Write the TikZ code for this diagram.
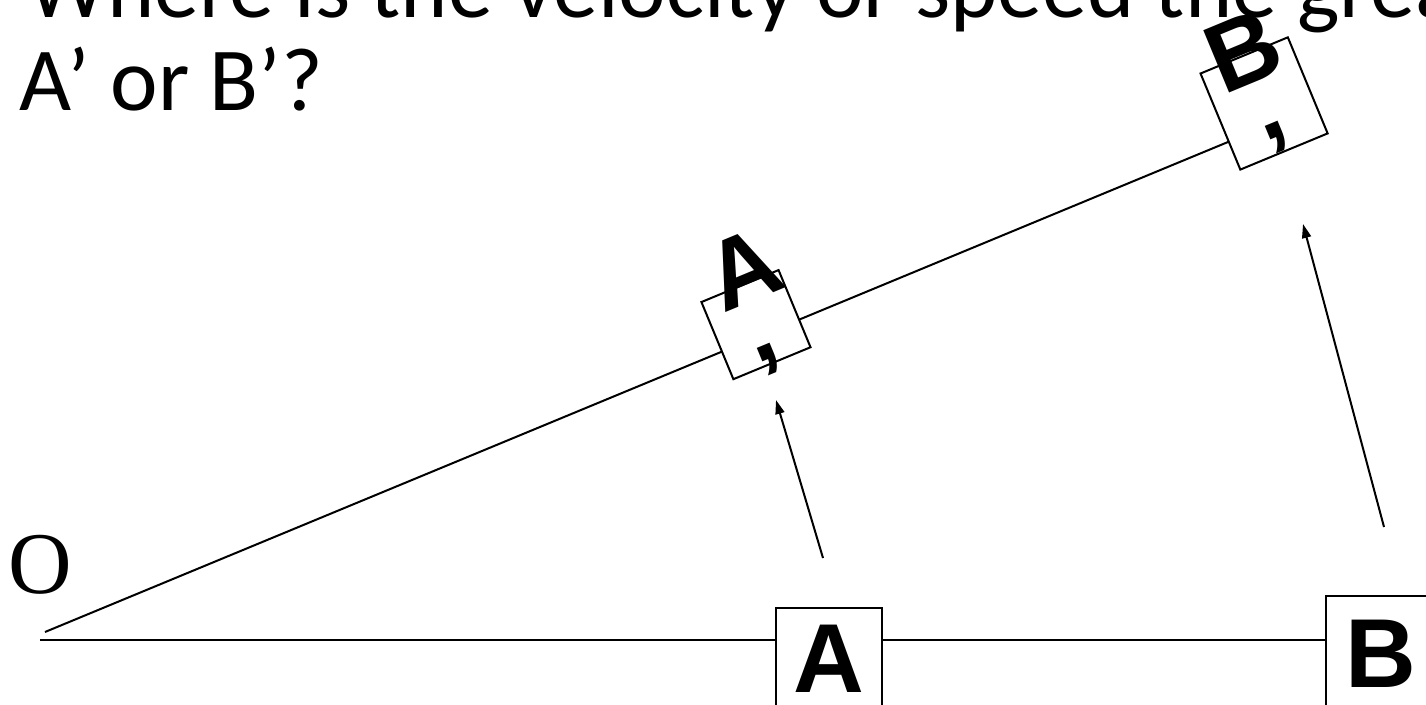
\documentclass[tikz,border=0pt]{standalone}
\usepackage{fontspec}
\setmainfont{Carlito}
\newfontfamily\arialfont{Liberation Sans}
\newfontfamily\timesfont{Liberation Serif}
\usetikzlibrary{arrows.meta}
\begin{document}
\begin{tikzpicture}[x=1pt,y=1pt,
  thinline/.style={line width=2pt},
  boxst/.style={draw, line width=2pt, fill=white, inner sep=0pt},
  bigletter/.style={font={\arialfont\bfseries\fontsize{98}{98}\selectfont}, inner sep=0pt},
  titlest/.style={font={\fontsize{90}{90}\selectfont}, inner sep=0pt, anchor=base west},
  arrowst/.style={line width=2pt, -{Triangle[length=14pt,width=9pt]}}]
\useasboundingbox (0,0) rectangle (1426,-704);
% title
\node[titlest] (t1) at (27,-17) {Where is the velocity or speed the greater};
\node[titlest] (t2) at (19,-110) {A’ or B’?};
% origin label
\node[inner sep=0pt, font={\timesfont\fontsize{88}{88}\selectfont}] (O) at (40,-565) {O};
% horizontal line and boxes
\coordinate (h0) at (40,-640);
\node[boxst, minimum width=106pt, minimum height=130pt, anchor=north] (boxA) at (829,-607) {};
\node[boxst, minimum width=106pt, minimum height=130pt, anchor=north] (boxB) at (1379,-595) {};
\node[bigletter, anchor=base] (labA) at (829,-692) {A};
\node[bigletter, anchor=base] (labB) at (1381,-687) {B};
\draw[thinline] (h0) -- (h0 -| boxA.west);
\draw[thinline] (h0 -| boxA.east) -- (h0 -| boxB.west);
% slanted line and rotated boxes
\begin{scope}[shift={(45,-632)}, rotate=22.5]
  \coordinate (s0) at (0,0);
  \coordinate (s1) at (1281.6,0);
  \draw[thinline] (s0) -- (s1);
  \node[boxst, rotate=22.5, minimum width=83.5pt, minimum height=83.5pt] (boxAp) at (774.5,11.9) {};
  \node[boxst, rotate=22.5, minimum width=94.5pt, minimum height=104pt] (boxBp) at (1328.6,21.8) {};
  \node[bigletter, rotate=22.5] (labAp) at (784.5,68.5) {A};
  \node[bigletter, rotate=22.5] (comAp) at (773.5,-25.1) {,};
  \node[bigletter, rotate=22.5] (labBp) at (1329.6,78.9) {B};
  \node[bigletter, rotate=22.5] (comBp) at (1327.3,-14.7) {,};
\end{scope}
% arrows
\coordinate (a1s) at (823,-558);
\coordinate (a1e) at (776,-400);
\coordinate (a2s) at (1384,-527);
\coordinate (a2e) at (1303,-224);
\draw[arrowst] (a1s) -- (a1e);
\draw[arrowst] (a2s) -- (a2e);
\end{tikzpicture}
\end{document}
